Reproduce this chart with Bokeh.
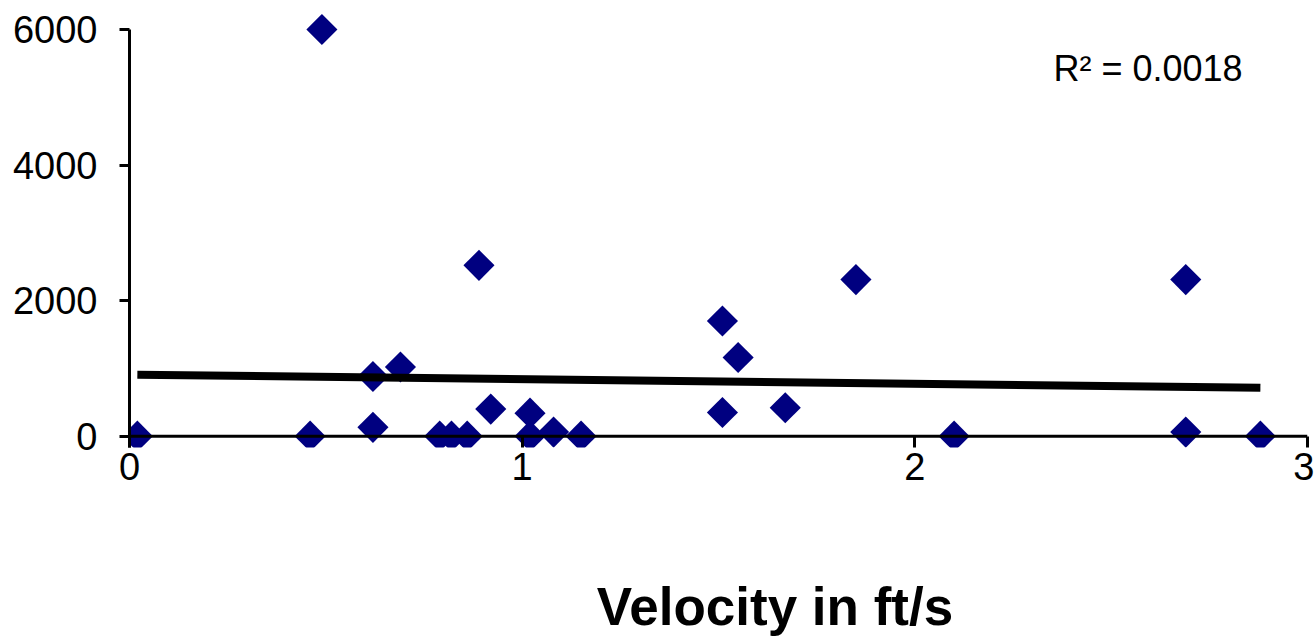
import numpy as np
from bokeh.plotting import figure
from bokeh.layouts import column
from bokeh.models import Span, Label, FixedTicker, ColumnDataSource, CDSView, BooleanFilter, Range1d
from bokeh.embed import file_html
from bokeh.resources import INLINE

# ---- data ----
velocity = [0.02, 0.46, 0.49, 0.62, 0.62, 0.69, 0.79, 0.82, 0.86, 0.89, 0.92, 1.02,
            1.02, 1.08, 1.15, 1.51, 1.51, 1.55, 1.67, 1.85, 2.10, 2.69, 2.69, 2.88]
count = [0, 0, 6000, 880, 130, 1020, 0, 0, 0, 2520, 400, 340,
         0, 60, 0, 1700, 350, 1160, 420, 2310, 0, 2310, 60, 0]
trend_intercept = 908
trend_slope = -67
r_squared = "0.0018"
x_ticks = [0, 1, 2, 3]
y_ticks = [0, 2000, 4000, 6000]
x_label = "Velocity in ft/s"

FONT = "Liberation Sans"
NAVY = "#000080"

p = figure(width=1314, height=560, output_backend="svg", toolbar_location=None,
           x_range=Range1d(0, 3), y_range=Range1d(-167, 6000),
           min_border_left=129, min_border_right=7, min_border_top=29, min_border_bottom=113)
p.outline_line_color = None
p.grid.visible = False
p.background_fill_color = "white"
p.border_fill_color = "white"

# y axis
ya = p.yaxis[0]
ya.ticker = FixedTicker(ticks=y_ticks)
ya.axis_line_width = 3
ya.axis_line_color = "black"
ya.major_tick_line_width = 3
ya.major_tick_out = 10
ya.major_tick_in = 0
ya.minor_tick_line_color = None
ya.major_label_standoff = 22
ya.major_label_text_font = FONT
ya.major_label_text_font_size = "38px"
ya.major_label_text_color = "black"

# x axis (ticks drawn up to the zero line)
xa = p.xaxis[0]
xa.ticker = FixedTicker(ticks=x_ticks)
xa.axis_line_color = None
xa.major_tick_line_width = 3
xa.major_tick_in = 11
xa.major_tick_out = 0
xa.minor_tick_line_color = None
xa.major_label_standoff = 5
xa.major_label_text_font = FONT
xa.major_label_text_font_size = "38px"
xa.major_label_text_color = "black"

# zero line acting as the x axis rule
p.add_layout(Span(location=0, dimension="width", line_color="black", line_width=3))

src = ColumnDataSource(dict(x=velocity, y=count))
low = [v < 1500 for v in count]
high = [not b for b in low]
kw = dict(marker="square", angle=np.pi / 4, size=22, fill_color=NAVY, line_color=None)
p.scatter("x", "y", source=src, view=CDSView(filter=BooleanFilter(low)), **kw)
p.scatter("x", "y", source=src, view=CDSView(filter=BooleanFilter(high)), level="overlay", **kw)

# linear trend line
tx = np.array([min(velocity), max(velocity)])
ty = trend_intercept + trend_slope * tx
p.line(tx, ty, line_color="black", line_width=8, line_cap="butt")

p.add_layout(Label(x=2.353, y=5425, text="R\u00b2 = " + r_squared, text_font=FONT,
                   text_font_size="36px", text_color="black", text_baseline="alphabetic"))

# strip below the chart holding the x-axis title
p2 = figure(width=1314, height=76, output_backend="svg", toolbar_location=None,
            x_range=Range1d(0, 1314), y_range=Range1d(0, 76), min_border=0,
            x_axis_type=None, y_axis_type=None)
p2.outline_line_color = None
p2.grid.visible = False
p2.add_layout(Label(x=720, y=30, text=x_label, text_font=FONT, text_font_size="53px",
                    text_font_style="bold", text_align="center", text_baseline="alphabetic",
                    text_color="black"))

open("out.html", "w").write(file_html(column(p, p2, spacing=0), INLINE))
